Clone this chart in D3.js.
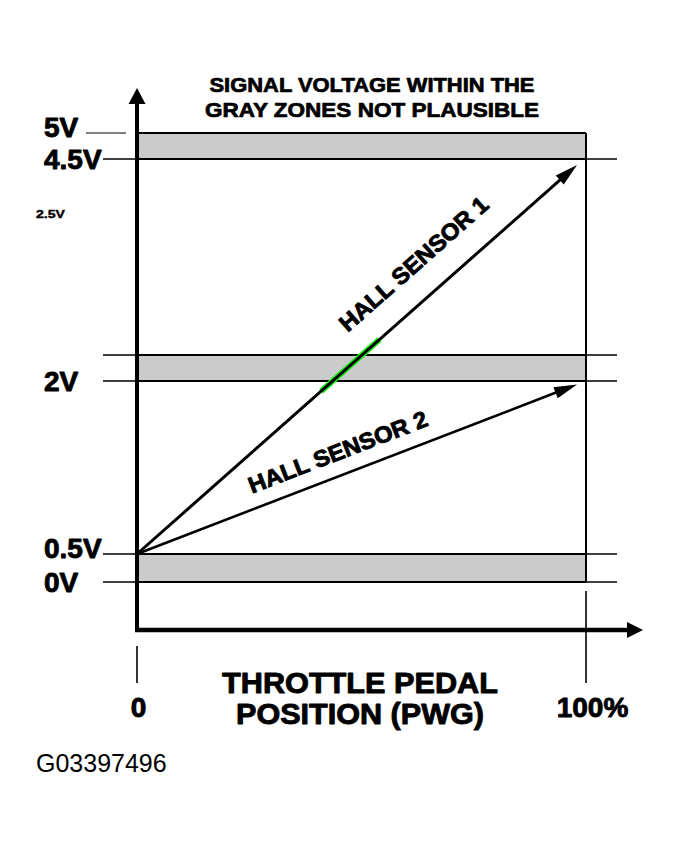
<!DOCTYPE html>
<html>
<head>
<meta charset="utf-8">
<script src="https://cdn.jsdelivr.net/npm/d3@7"></script>
<style>
  html, body { margin: 0; padding: 0; background: #fff; }
  text { font-family: "Liberation Sans", Arial, sans-serif; fill: #000; }
  text.heavy { stroke: #000; stroke-width: 0.9px; stroke-linejoin: round; }
</style>
</head>
<body>
<script>
// voltage levels on the left (the scale is schematic, not linear)
const voltLevels = [0, 0.5, 2, 2.5, 4.5, 5];
const levelLabels = ["0V", "0.5V", "2V", "", "4.5V", "5V"];
const grayZones = [[0, 0.5], [2, 2.5], [4.5, 5]];

const pedalTicks = [0, 100];
const pedalTickLabels = ["0", "100%"];

// [pedal %, volts] start and arrow tip of each sensor line
const hallSensor1 = [[0, 0.5], [98, 4.44]];
const hallSensor2 = [[0, 0.5], [98, 1.97]];
const sensorNames = ["HALL SENSOR 1", "HALL SENSOR 2"];
const greenMark = [41, 54]; // pedal % range highlighted on sensor 1

const titleLines = ["SIGNAL VOLTAGE WITHIN THE", "GRAY ZONES NOT PLAUSIBLE"];
const axisTitleLines = ["THROTTLE PEDAL", "POSITION (PWG)"];
const strayLabel = "2.5V";
const figureId = "G03397496";

var width = 680, height = 854;

var svg = d3.select("body").append("svg")
  .attr("width", width)
  .attr("height", height);

var x = d3.scaleLinear().domain([0, 100]).range([137, 586]);
var y = d3.scaleLinear().domain(voltLevels).range([582, 554, 381, 355, 159, 133]);

var topV = d3.max(voltLevels), lowV = d3.min(voltLevels);

// gray zones
svg.selectAll("rect.zone")
  .data(grayZones)
  .enter().append("rect")
    .attr("class", "zone")
    .attr("x", x(0))
    .attr("y", function(d) { return y(d[1]); })
    .attr("width", x(100) - x(0))
    .attr("height", function(d) { return y(d[0]) - y(d[1]); })
    .attr("fill", "#cbcbcb");

// level lines
voltLevels.forEach(function(v, i) {
  if (v == topV) {
    svg.append("line")
      .attr("x1", 86).attr("x2", 126)
      .attr("y1", y(v)).attr("y2", y(v))
      .attr("stroke", "#000").attr("stroke-width", 1.2);
    svg.append("line")
      .attr("x1", x(0)).attr("x2", x(100))
      .attr("y1", y(v)).attr("y2", y(v))
      .attr("stroke", "#000").attr("stroke-width", 2);
  } else {
    svg.append("line")
      .attr("x1", 103).attr("x2", 617)
      .attr("y1", y(v)).attr("y2", y(v))
      .attr("stroke", "#000").attr("stroke-width", 1.3);
    svg.append("line")
      .attr("x1", x(0)).attr("x2", x(100))
      .attr("y1", y(v)).attr("y2", y(v))
      .attr("stroke", "#000").attr("stroke-width", 1.8);
  }
});

// level labels
var bandTops = grayZones.map(function(z) { return z[1]; });
svg.selectAll("text.level")
  .data(voltLevels)
  .enter().append("text")
    .attr("class", "level heavy")
    .attr("x", 44)
    .attr("y", function(d) { return y(d) + 9 + (bandTops.indexOf(d) >= 0 ? -5 : 1); })
    .attr("font-size", 28)
    .attr("font-weight", "bold")
    .text(function(d, i) { return levelLabels[i]; });

svg.append("text")
  .attr("x", 36).attr("y", 218)
  .attr("font-size", 11).attr("font-weight", "bold")
  .attr("class", "heavy").style("stroke-width", "0.4px")
  .attr("textLength", 29).attr("lengthAdjust", "spacingAndGlyphs")
  .text(strayLabel);

// right border of the zones and pedal ticks
svg.append("line")
  .attr("x1", x(100)).attr("x2", x(100))
  .attr("y1", y(topV)).attr("y2", y(lowV))
  .attr("stroke", "#000").attr("stroke-width", 2);

svg.selectAll("line.ptick")
  .data(pedalTicks)
  .enter().append("line")
    .attr("class", "ptick")
    .attr("x1", function(d) { return x(d); })
    .attr("x2", function(d) { return x(d); })
    .attr("y1", function(d) { return d == 0 ? 646 : 591; })
    .attr("y2", 683)
    .attr("stroke", "#000").attr("stroke-width", 1.6);

svg.selectAll("text.ptick")
  .data(pedalTicks)
  .enter().append("text")
    .attr("class", "ptick heavy")
    .attr("x", function(d) { return x(d) + (d == 0 ? 1.5 : 6.5); })
    .attr("y", 717)
    .attr("text-anchor", "middle")
    .attr("font-size", 28).attr("font-weight", "bold")
    .text(function(d, i) { return pedalTickLabels[i]; });

// axes with arrowheads
svg.append("line")
  .attr("x1", x(0)).attr("x2", x(0))
  .attr("y1", 632).attr("y2", 100)
  .attr("stroke", "#000").attr("stroke-width", 4);
svg.append("path")
  .attr("d", "M" + x(0) + ",88 L" + (x(0) - 8.5) + ",104 L" + (x(0) + 8.5) + ",104 Z")
  .attr("fill", "#000");

svg.append("line")
  .attr("x1", 135).attr("x2", 630)
  .attr("y1", 630).attr("y2", 630)
  .attr("stroke", "#000").attr("stroke-width", 4.5);
svg.append("path")
  .attr("d", "M643,630 L627,622 L627,638 Z")
  .attr("fill", "#000");

// sensor lines
function point(d) { return [x(d[0]), y(d[1])]; }

// green highlight under sensor 1
var s0 = point(hallSensor1[0]), s1 = point(hallSensor1[1]);
function onSensor1(p) {
  var t = (x(p) - s0[0]) / (s1[0] - s0[0]);
  return [x(p), s0[1] + t * (s1[1] - s0[1])];
}
var g0 = onSensor1(greenMark[0]), g1 = onSensor1(greenMark[1]);
svg.append("line")
  .attr("x1", g0[0]).attr("y1", g0[1])
  .attr("x2", g1[0]).attr("y2", g1[1])
  .attr("stroke", "#19f019").attr("stroke-width", 6);

function drawSensor(data, name, t, off, sw) {
  var a = point(data[0]), b = point(data[1]);
  var dx = b[0] - a[0], dy = b[1] - a[1];
  var len = Math.sqrt(dx * dx + dy * dy);
  var ux = dx / len, uy = dy / len;
  var head = 23, half = 6;
  svg.append("line")
    .attr("x1", a[0]).attr("y1", a[1])
    .attr("x2", b[0] - ux * head * 0.8).attr("y2", b[1] - uy * head * 0.8)
    .attr("stroke", "#000").attr("stroke-width", sw);
  var bx = b[0] - ux * head, by = b[1] - uy * head;
  svg.append("path")
    .attr("d", "M" + b[0] + "," + b[1] +
      " L" + (bx - uy * half) + "," + (by + ux * half) +
      " L" + (bx + uy * half) + "," + (by - ux * half) + " Z")
    .attr("fill", "#000");

  var angle = Math.atan2(dy, dx) * 180 / Math.PI;
  var cx = a[0] + dx * t + uy * off, cy = a[1] + dy * t - ux * off;
  svg.append("text")
    .attr("class", "heavy")
    .attr("transform", "translate(" + cx + "," + cy + ") rotate(" + angle + ")")
    .attr("text-anchor", "middle")
    .attr("font-size", 23).attr("font-weight", "bold")
    .attr("textLength", 190).attr("lengthAdjust", "spacingAndGlyphs")
    .text(name);
}
drawSensor(hallSensor1, sensorNames[0], 0.68, 26, 3);
drawSensor(hallSensor2, sensorNames[1], 0.475, 15, 2.6);

// titles
svg.selectAll("text.title")
  .data(titleLines)
  .enter().append("text")
    .attr("class", "title heavy")
    .style("stroke-width", "0.7px")
    .attr("x", 372)
    .attr("y", function(d, i) { return 92 + i * 25; })
    .attr("text-anchor", "middle")
    .attr("font-size", 20).attr("font-weight", "bold")
    .attr("textLength", function(d, i) { return i == 0 ? 325 : 334; })
    .attr("lengthAdjust", "spacingAndGlyphs")
    .text(function(d) { return d; });

svg.selectAll("text.axtitle")
  .data(axisTitleLines)
  .enter().append("text")
    .attr("class", "axtitle heavy")
    .attr("x", 360)
    .attr("y", function(d, i) { return 693 + i * 31; })
    .attr("text-anchor", "middle")
    .attr("font-size", 29).attr("font-weight", "bold")
    .attr("textLength", function(d, i) { return i == 0 ? 276 : 248; })
    .attr("lengthAdjust", "spacingAndGlyphs")
    .text(function(d) { return d; });

svg.append("text")
  .attr("x", 36).attr("y", 772)
  .attr("font-size", 25)
  .text(figureId);
</script>
</body>
</html>
